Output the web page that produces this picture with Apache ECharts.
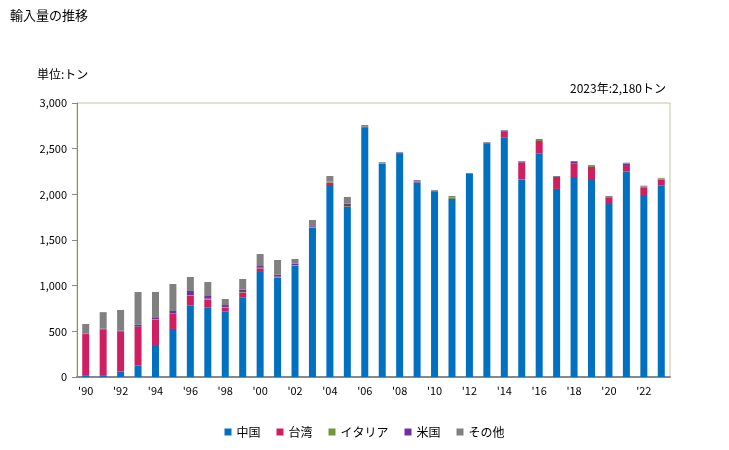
<!DOCTYPE html>
<html><head><meta charset="utf-8">
<script src="https://cdn.jsdelivr.net/npm/echarts@6/dist/echarts.min.js"></script>
<style>html,body{margin:0;padding:0;background:#fff}#c{width:729px;height:450px}</style>
</head><body><div id="c"></div>
<script>
const years = ["1990","1991","1992","1993","1994","1995","1996","1997","1998","1999","2000","2001","2002","2003","2004","2005","2006","2007","2008","2009","2010","2011","2012","2013","2014","2015","2016","2017","2018","2019","2020","2021","2022","2023"];
const china  = [20,20,62,124,350,526,785,759,715,873,1160,1088,1219,1635,2102,1862,2734,2336,2449,2128,2029,1949,2223,2559,2621,2161,2446,2059,2190,2168,1905,2248,1993,2100];
const taiwan = [450,500,435,424,278,164,106,88,44,50,30,0,0,0,26,0,0,0,0,0,0,0,0,0,65,186,138,131,150,132,63,73,77,60];
const italy  = [0,0,0,3,5,11,7,11,8,8,7,11,7,11,11,10,0,10,0,0,0,15,0,0,0,0,22,0,0,11,0,0,14,15];
const usa    = [5,10,11,20,13,22,44,29,21,25,18,22,15,15,0,26,7,0,8,11,11,0,0,7,11,11,0,0,14,0,0,15,0,0];
const others = [105,180,226,360,285,295,153,153,66,117,132,160,51,58,62,73,18,8,7,18,8,18,11,7,8,7,0,11,11,10,14,11,11,5];
const yTicks = [0,500,1000,1500,2000,2500,3000];

const chart = echarts.init(document.getElementById('c'), null, {renderer:'canvas'});
const font = "'Noto Sans CJK JP', 'Noto Sans', sans-serif";
function s(name, data, color){
  return {name, type:'bar', stack:'t', data, barWidth:7, itemStyle:{color}, emphasis:{disabled:true}};
}
chart.setOption({
  animation:false,
  textStyle:{fontFamily:font},
  title:[
    {text:'輸入量の推移', left:5, top:4, textStyle:{fontSize:13, fontWeight:'normal', color:'#000', fontFamily:font}},
    {text:'単位:トン', left:32, top:63, textStyle:{fontSize:12, fontWeight:'normal', color:'#000', fontFamily:font}},
    {text:'2023年:2,180トン', right:58, top:77, textStyle:{fontSize:12, fontWeight:'normal', color:'#000', fontFamily:font}}
  ],
  grid:{left:77, right:59, top:103, bottom:73, show:true, borderColor:'#c8c4a0', borderWidth:1, containLabel:false},
  legend:{bottom:7, left:'center', itemWidth:7, itemHeight:7, itemGap:16, icon:'rect',
    textStyle:{fontSize:12, color:'#000', fontFamily:font}, data:['中国','台湾','イタリア','米国','その他']},
  xAxis:{type:'category', data:years,
    axisLine:{lineStyle:{color:'#888', width:2}}, axisTick:{show:false},
    axisLabel:{interval:1, color:'#000', fontSize:11, margin:8, formatter:v=>"'"+v.slice(2)}},
  yAxis:{type:'value', min:0, max:3000, interval:500,
    axisLine:{show:true, lineStyle:{color:'#888', width:1}},
    axisTick:{show:true, length:5, lineStyle:{color:'#888'}},
    splitLine:{show:false},
    axisLabel:{color:'#000', fontSize:11, margin:10, formatter:v=>v.toLocaleString('en-US')}},
  series:[
    s('中国', china, '#0070c0'),
    s('台湾', taiwan, '#d01f60'),
    s('イタリア', italy, '#76923c'),
    s('米国', usa, '#7030a0'),
    s('その他', others, '#808080')
  ]
});
</script></body></html>
